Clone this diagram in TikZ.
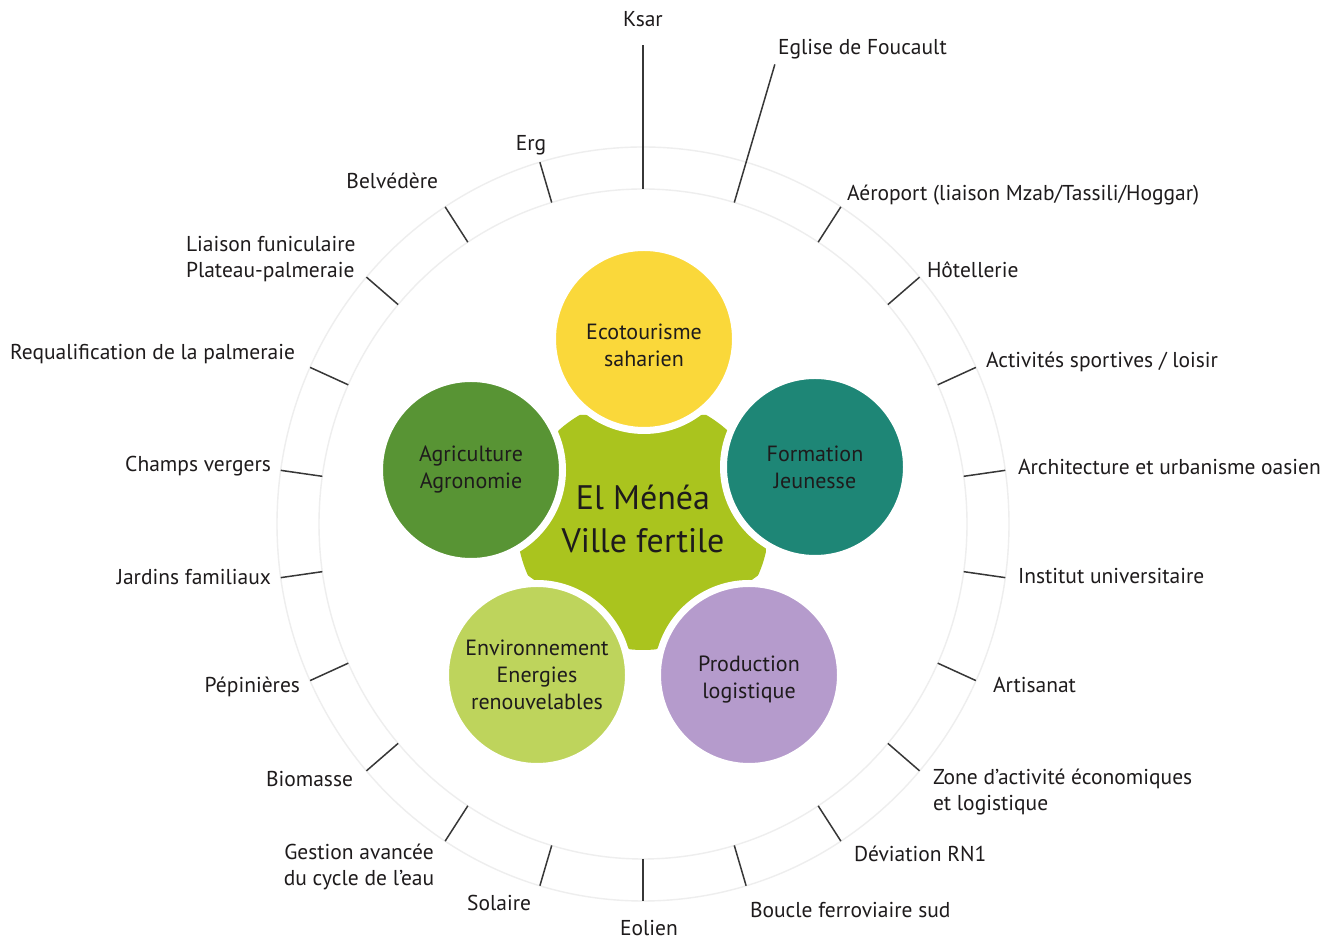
\documentclass[tikz,border=0pt]{standalone}
\usepackage{fontspec}
\setmainfont{PT Sans}
\definecolor{yellowc}{RGB}{250,216,58}
\definecolor{tealc}{RGB}{30,134,118}
\definecolor{agric}{RGB}{88,148,52}
\definecolor{envc}{RGB}{190,212,92}
\definecolor{prodc}{RGB}{181,155,204}
\definecolor{centerc}{RGB}{170,196,30}
\definecolor{txt}{RGB}{30,27,28}
\definecolor{ringc}{RGB}{238,238,238}
\definecolor{tickc}{RGB}{55,55,55}
\begin{document}
\begin{tikzpicture}[x=1pt,y=1pt,
  lab/.style={font=\fontsize{21.5}{26}\selectfont, text=txt, inner sep=0pt, outer sep=0pt},
  one/.style={lab, text height=15pt, text depth=0pt},
  bub/.style={circle, minimum size=183pt, draw=white, line width=7pt, inner sep=0pt},
  btxt/.style={align=center, inner sep=0pt, text=txt, font=\fontsize{22}{27}\selectfont},
  ring/.style={draw=ringc, line width=1.4pt},
  tickl/.style={draw=tickc, line width=1.5pt}]
\useasboundingbox[fill=white] (0,0) rectangle (1341,941);
\coordinate (C) at (643,417);
% faint rings
\draw[ring] (C) ellipse [x radius=324, y radius=335];
\draw[ring] (C) ellipse [x radius=366, y radius=377];
% ticks and central shape
\begin{scope}[shift={(643,417)}]
\foreach \k in {2,...,21}{
  \pgfmathsetmacro\a{90-\k*360/22}
  \draw[tickl] (\a:324 and 335) -- (\a:366 and 377);
}
\draw[tickl] (90:324 and 335) -- (90:468 and 479);
\pgfmathsetmacro\b{90-360/22}
\draw[tickl] (\b:324 and 335) -- (\b:468 and 479);
\begin{scope}
\clip (0,0) circle (126);
\fill[centerc] (126:135) -- (54:135) -- (-18:135) -- (-90:135) -- (198:135) -- cycle;
\end{scope}
\end{scope}
% bubbles
\node[bub, fill=yellowc] (eco) at (644,602) {};
\node[bub, fill=tealc] (form) at (815,474) {};
\node[bub, fill=agric] (agri) at (471,471) {};
\node[bub, fill=envc] (env) at (537,266) {};
\node[bub, fill=prodc] (prod) at (749,266) {};
\node[btxt, yshift=-6pt] (ecot) at (eco) {Ecotourisme\\saharien};
\node[btxt] (formt) at (form) {Formation\\Jeunesse};
\node[btxt] (agrit) at (agri) {Agriculture\\Agronomie};
\node[btxt] (envt) at (env) {Environnement\\Energies\\renouvelables};
\node[btxt, yshift=-5pt] (prodt) at (prod) {Production\\logistique};
\node[lab, align=center, font=\fontsize{34}{43}\selectfont] (ctr) at (643,422) {El Ménéa\\Ville fertile};
% labels
\node[one] (ksar) at (643,922) {Ksar};
\node[one, anchor=west] (egl) at (778,894) {Eglise de Foucault};
\node[one, anchor=west] (aer) at (847,748) {Aéroport (liaison Mzab/Tassili/Hoggar)};
\node[one, anchor=west] (hot) at (927,671) {Hôtellerie};
\node[one, anchor=west] (act) at (986,581) {Activités sportives / loisir};
\node[one, anchor=west] (arch) at (1018,474) {Architecture et urbanisme oasien};
\node[one, anchor=west] (inst) at (1018,365) {Institut universitaire};
\node[one, anchor=west] (art) at (993,256) {Artisanat};
\node[lab, anchor=west, align=left] (zone) at (933,149) {Zone d’activité économiques\\et logistique};
\node[one, anchor=west] (dev) at (854,87) {Déviation RN1};
\node[one, anchor=west] (bouc) at (750,31) {Boucle ferroviaire sud};
\node[one] (eol) at (649,13) {Eolien};
\node[one, anchor=east] (sol) at (531,38) {Solaire};
\node[lab, align=center] (gest) at (359,74) {Gestion avancée\\du cycle de l’eau};
\node[one, anchor=east] (bio) at (353,162) {Biomasse};
\node[one, anchor=east] (pep) at (300,256) {Pépinières};
\node[one, anchor=east] (jard) at (271,364) {Jardins familiaux};
\node[one, anchor=east] (champ) at (271,477) {Champs vergers};
\node[one, anchor=east] (requ) at (295,589) {Requalification de la palmeraie};
\node[lab, anchor=west, align=left] (liai) at (186,682) {Liaison funiculaire\\Plateau-palmeraie};
\node[one, anchor=east] (belv) at (438,760) {Belvédère};
\node[one] (erg) at (531,798) {Erg};
\end{tikzpicture}
\end{document}
